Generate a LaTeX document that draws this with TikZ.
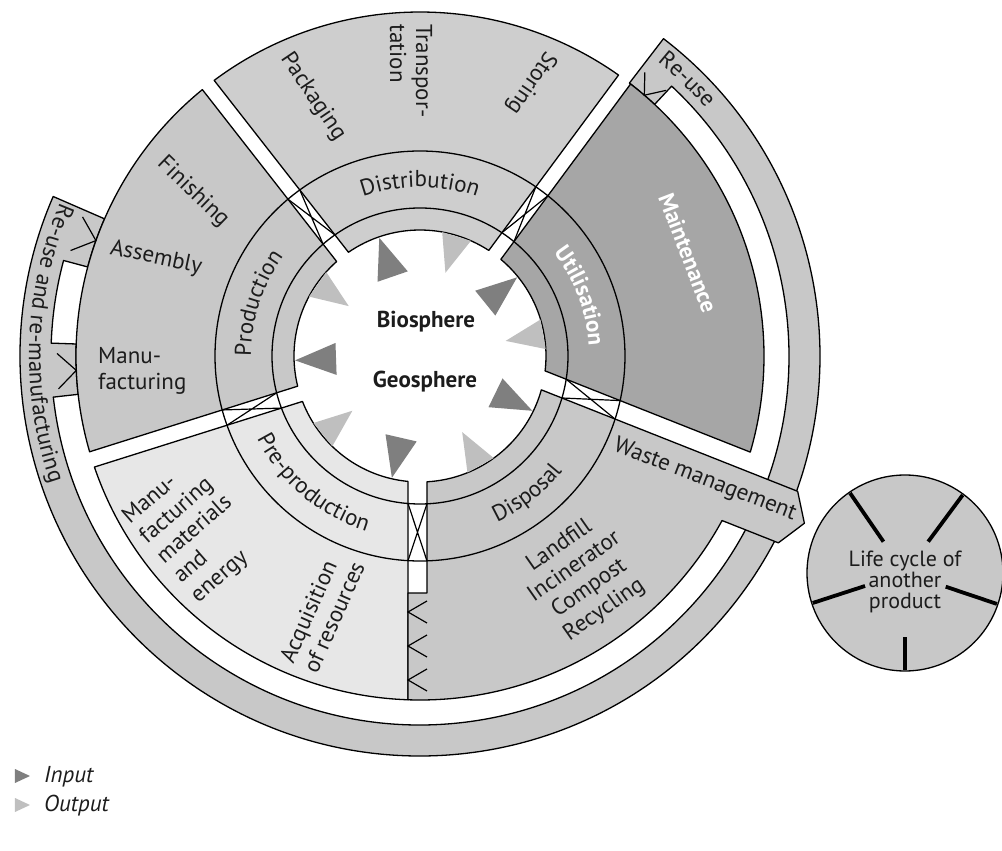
\documentclass[tikz,border=0pt]{standalone}
\usepackage{fontspec}
\setmainfont{PT Sans}
\usetikzlibrary{decorations.text}

\definecolor{stagegray}{HTML}{C8C8C8}
\definecolor{distgray}{HTML}{CECECE}
\definecolor{usegray}{HTML}{A6A6A6}
\definecolor{pregray}{HTML}{E7E7E7}
\definecolor{inkcol}{HTML}{1C1C1C}
\definecolor{indark}{HTML}{7F7F7F}
\definecolor{outlight}{HTML}{BFBFBF}

\newcommand\cyclefont{\fontsize{23}{26}\selectfont}

% radii of the rings
\def\rA{126}\def\rB{148}\def\rC{205}\def\rD{344}\def\rE{369}\def\rF{400}

% ring piece between two straight cut lines
% #1 style, #2/#3 angle and offset of the clockwise cut, #4/#5 of the counter-clockwise cut, #6 inner r, #7 outer r
\newcommand\ringpart[7]{%
  \filldraw[#1] ({#2+asin((#3)/#6)}:#6) -- ({#2+asin((#3)/#7)}:#7)
    arc[start angle={#2+asin((#3)/#7)}, end angle={#4+asin((#5)/#7)}, radius=#7]
    -- ({#4+asin((#5)/#6)}:#6)
    arc[start angle={#4+asin((#5)/#6)}, end angle={#2+asin((#3)/#6)}, radius=#6] -- cycle;}

% crossed lines inside a gap between the two middle circles: angle, offset, half width
\newcommand\gapcross[3]{%
  \draw[flowline] ({#1+asin((#2-#3)/\rB)}:\rB) -- ({#1+asin((#2+#3)/\rC)}:\rC)
                  ({#1+asin((#2+#3)/\rB)}:\rB) -- ({#1+asin((#2-#3)/\rC)}:\rC);}

\begin{document}
\begin{tikzpicture}[x=1pt,y=1pt,
  outline/.style={draw=black, line width=1.3pt, line join=round},
  stageA/.style={outline, fill=stagegray},
  stageD/.style={outline, fill=distgray},
  stageU/.style={outline, fill=usegray},
  stageP/.style={outline, fill=pregray},
  flowline/.style={draw=black, line width=1.2pt},
  spoke/.style={draw=black, line width=3.8pt},
  lbl/.style={font=\cyclefont, text=inkcol, inner sep=0pt},
  arclabel/.style={decorate, decoration={text along path, text align=center, text color=inkcol, text={|\cyclefont|#1}}},
  whitearclabel/.style={decorate, decoration={text along path, text align=center, text color=white, text={|\cyclefont\bfseries|#1}}}
]
\useasboundingbox (-420,-495) rectangle (582,356);

% outer return band with its bridges
\filldraw[stageA] (52.5:\rD) -- (52.5:\rF)
  arc[start angle=52.5, end angle=-203.5, radius=\rF]
  -- (-203.5:\rD) arc[start angle=-203.5, end angle=-195, radius=\rD]
  -- (-195:\rE) arc[start angle=-195, end angle=-182, radius=\rE]
  -- (-182:\rD) arc[start angle=-182, end angle=-173.6, radius=\rD]
  -- (-173.6:\rE) arc[start angle=-173.6, end angle=47, radius=\rE]
  -- (47:\rD) arc[start angle=47, end angle=52.5, radius=\rD] -- cycle;

% life-cycle stages
\ringpart{stageU}{-21.6}{32.2}{53.5}{-7.5}{\rA}{\rD}
\ringpart{stageD}{53.5}{7.5}{128}{-7.5}{\rA}{\rD}
\ringpart{stageA}{128}{7.5}{197.5}{-8}{\rA}{\rD}
\ringpart{stageP}{197.5}{8}{270}{-12}{\rA}{\rD}

\begin{scope}[rotate=-21.6]
  \coordinate (wt) at (401,13.2);
  \coordinate (wtip) at (419,-14);
  \coordinate (wb) at (402,-41.8);
\end{scope}
\filldraw[stageA] ({-90+asin(7/\rA)}:\rA) -- (7,-237) -- (-12,-237)
  -- ({-90-asin(12/\rD)}:\rD)
  arc[start angle={-90-asin(12/\rD)}, end angle={-21.6+asin(-41.8/\rD)}, radius=\rD]
  -- (wb) -- (wtip) -- (wt) -- ({-21.6+asin(13.2/\rA)}:\rA)
  arc[start angle={-21.6+asin(13.2/\rA)}, end angle={-90+asin(7/\rA)}, radius=\rA] -- cycle;

% the two middle circles
\draw[outline] (0,0) circle (\rB);
\draw[outline] (0,0) circle (\rC);

% crossings in the gaps
\gapcross{-21.6}{22.7}{9.5}
\gapcross{53.5}{0}{7.5}
\gapcross{128}{0}{7.5}
\gapcross{197.5}{0}{8}
\gapcross{-90}{-2.5}{9.5}

% flow marks in the bridges
\draw[flowline] (157.6:365) -- (160.4:\rD) -- (163.2:365);
\draw[flowline] (179.6:363) -- (182.4:\rD) -- (185.2:363);
\draw[flowline] (51.6:362) -- (49.3:\rD) -- (47.2:362);
\foreach \y in {-256,-290,-324}
  \draw[flowline] (7,\y+11) -- (-12,\y) -- (7,\y-11);

% inputs and outputs around the centre
\foreach \a in {109,39,-26,-103,182}
  \fill[indark, rotate=\a] (84,16) -- (125,0) -- (84,-16) -- cycle;
\foreach \a in {73,10,-61,-141,145}
  \fill[outlight, rotate=\a] (125,15) -- (87,0) -- (125,-15) -- cycle;

\node[lbl, font=\cyclefont\bfseries] (bio) at (6,34) {Biosphere};
\node[lbl, font=\cyclefont\bfseries] (geo) at (5,-26) {Geosphere};

% stage names along the middle ring
\path[arclabel=Distribution] (130:169) arc[start angle=130, end angle=50, radius=169];
\path[arclabel=Production] (212:169) arc[start angle=212, end angle=112, radius=169];
\path[whitearclabel=Utilisation] (70.5:169) arc[start angle=70.5, end angle=-29.5, radius=169];
\path[arclabel=Disposal] (-102:183) arc[start angle=-102, end angle=-2, radius=183];
\path[arclabel=Pre-production] (180:183) arc[start angle=180, end angle=280, radius=183];
\path[arclabel=Re-use] (76:378) arc[start angle=76, end angle=16, radius=378];
\path[arclabel=Re-use and re-manufacturing] (136:391) arc[start angle=136, end angle=220, radius=391];

% activities in the outer ring
\node[lbl, rotate=-56] (pack) at (-107,259) {Packaging};
\node[lbl, rotate=-90, align=left] (trans) at (-9,285) {Transpor-\\tation};
\node[lbl, rotate=-124] (stor) at (111,273) {Storing};
\node[lbl, rotate=-69, font=\cyclefont\bfseries, text=white] (maint) at (268,103) {Maintenance};
\node[lbl, rotate=-44] (fin) at (-227,164) {Finishing};
\node[lbl, rotate=-12] (asm) at (-264,98) {Assembly};
\node[lbl, anchor=west, align=left] (manu) at (-322,-15) {Manu-\\facturing};
\node[lbl, rotate=41, align=left] (mme) at (-225,-174) {Manu-\\facturing\\materials\\and\\energy};
\node[lbl, rotate=66, align=left] (acq) at (-98,-256) {Acquisition\\of resources};
\node[lbl, rotate=35, align=center] (lics) at (162,-222) {Landfill\\Incinerator\\Compost\\Recycling};
\node[lbl, rotate=-21] (waste) at (285,-124) {Waste management};

% another product's life cycle
\filldraw[outline, fill=stagegray] (485,-217) circle (98);
\foreach \a/\ri in {124.5/38, 53.5/39, 198/42, -18.6/43, 270/64}
  \draw[spoke, shift={(485,-217)}] (\a:\ri) -- (\a:97);
\node[lbl, align=center, font=\fontsize{22}{21}\selectfont] (other) at (485,-226) {Life cycle of\\another\\product};

% legend
\fill[indark] (-405,-413) -- (-390,-420) -- (-405,-427) -- cycle;
\fill[outlight] (-405,-442) -- (-390,-449) -- (-405,-456) -- cycle;
\node[lbl, anchor=west, font=\cyclefont\itshape] (inleg) at (-376,-421) {Input};
\node[lbl, anchor=west, font=\cyclefont\itshape] (outleg) at (-376,-450) {Output};
\end{tikzpicture}
\end{document}
